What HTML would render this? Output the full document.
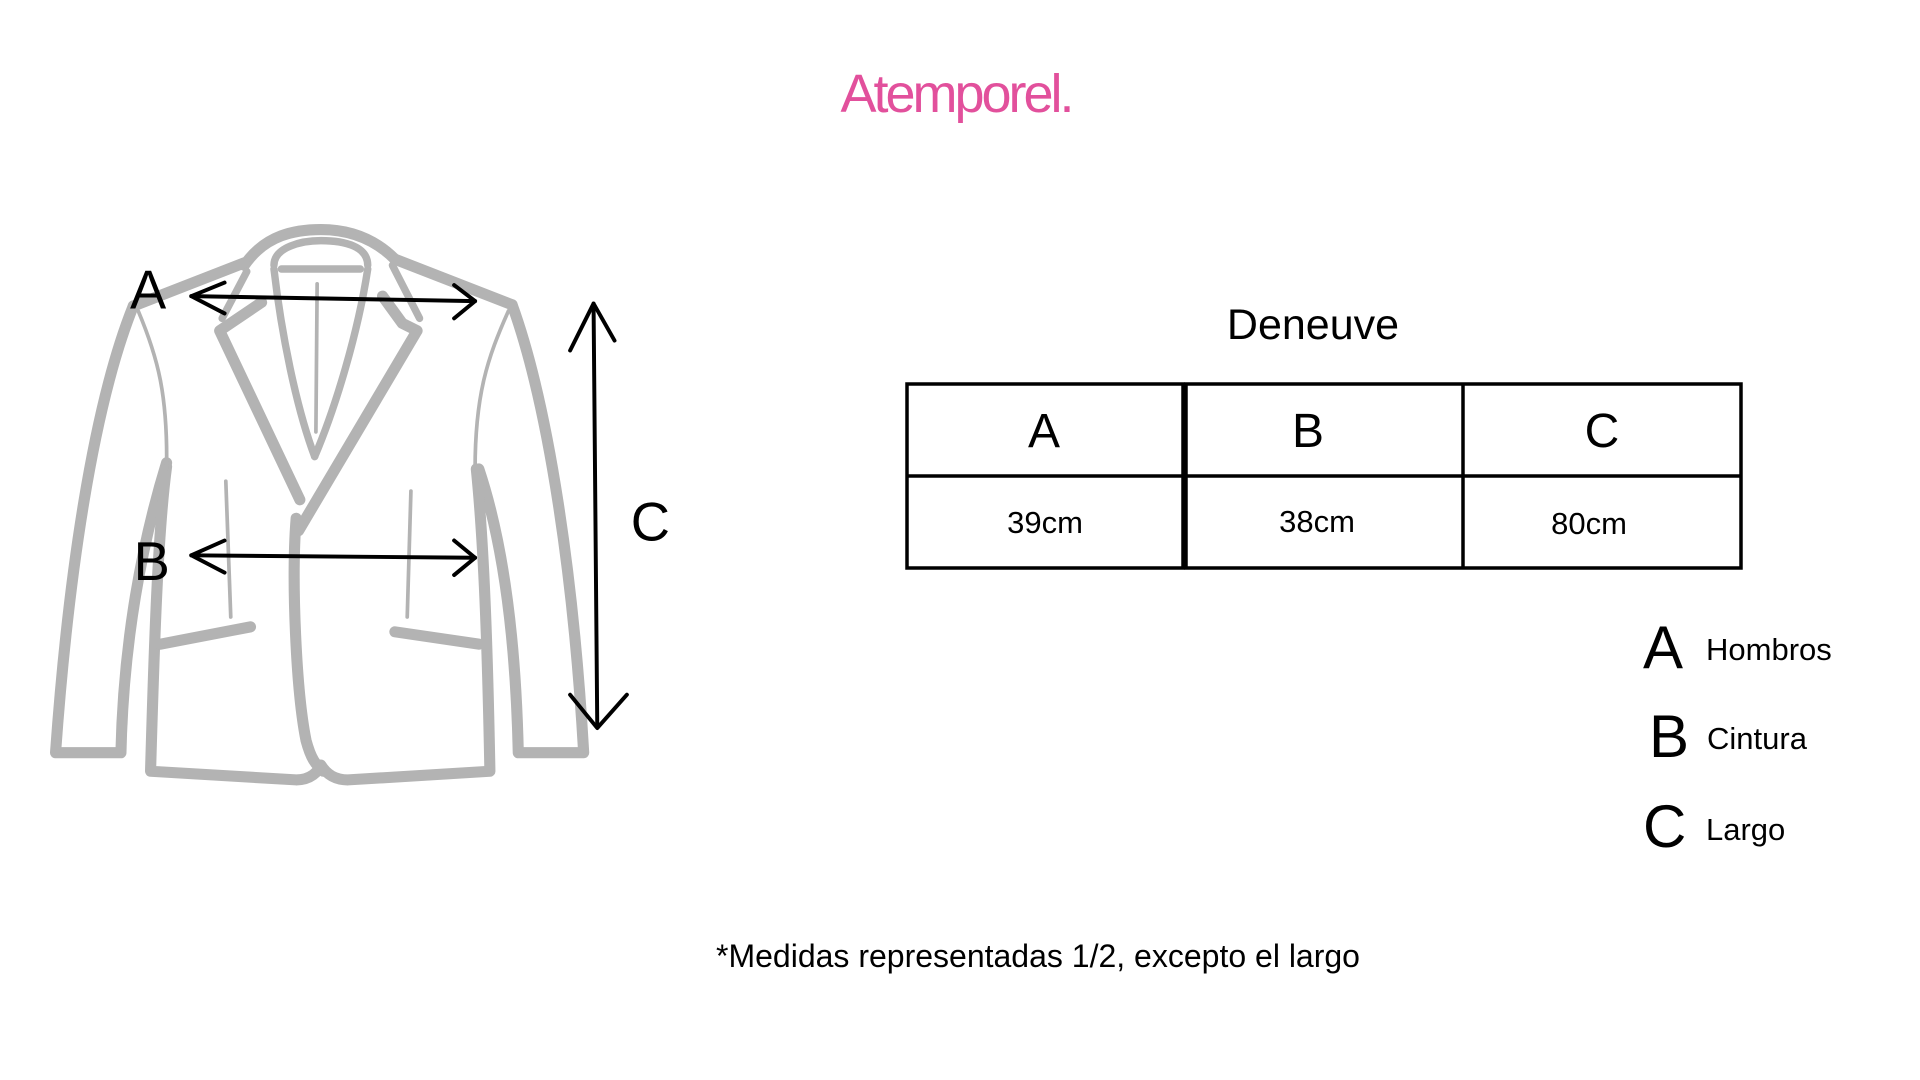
<!DOCTYPE html>
<html><head><meta charset="utf-8"><style>
html,body{margin:0;padding:0;background:#fff;}
svg{display:block}
text{font-family:"Liberation Sans","DejaVu Sans",sans-serif;}
</style></head><body>
<svg width="1920" height="1080" viewBox="0 0 1920 1080" xmlns="http://www.w3.org/2000/svg">
<rect width="1920" height="1080" fill="#fff"/>
<text x="956" y="112" text-anchor="middle" font-size="54" fill="#e2509c" letter-spacing="-3">Atemporel.</text>

<g transform="scale(1.234)" fill="none" stroke-linecap="round" stroke-linejoin="round">
 <g stroke="#b3b3b3" stroke-width="9">
  <path d="M198,215 C215,190 240,186 260,186 C285,186 305,195 320,210"/>
  <path d="M198,213 L108,248"/>
  <path d="M320,210 L415,247"/>
  <path d="M108,248 C75,330 55,470 45,610 L98,610 C100,520 115,440 135,375"/>
  <path d="M415,247 C445,330 465,470 473,610 L420,610 C418,520 408,440 388,380"/>
  <path d="M135,378 C128,430 125,520 122,625 L240,632 C252,632 258,625 260,620 C265,628 272,632 282,632 L397,625 C395,520 392,440 386,380"/>
  <path d="M212,245 L178,268 L243,405"/>
  <path d="M310,240 L326,262 L338,268 L242,430"/>
  <path d="M240,420 C236,470 240,560 248,600 C252,615 256,620 262,625"/>
  <path d="M130,522 L203,508"/>
  <path d="M320,512 L388,522"/>
 </g>
 <g stroke="#b3b3b3" stroke-width="6">
  <path d="M222,215 C222,200 245,195 260,195 C280,195 298,200 298,215"/>
  <path d="M222,218 C228,270 240,330 255,370"/>
  <path d="M298,218 C290,270 272,330 255,370"/>
  <path d="M228,218 L292,218"/>
  <path d="M200,220 L180,258"/>
  <path d="M318,215 L340,258"/>
 </g>
 <g stroke="#b3b3b3" stroke-width="3">
  <path d="M112,252 C128,290 136,320 135,380"/>
  <path d="M412,252 C395,290 385,320 385,380"/>
  <path d="M183,390 L187,500"/>
  <path d="M333,398 L330,500"/>
  <path d="M257,230 L256,350"/>
 </g>
 <g stroke="#000" stroke-width="3.2">
  <path d="M155,240 L385,244"/>
  <path d="M182,229 L155,240 L182,254"/>
  <path d="M368,231 L385,244 L368,258"/>
  <path d="M155,450 L385,452"/>
  <path d="M182,438 L155,450 L182,464"/>
  <path d="M368,438 L385,452 L368,466"/>
  <path d="M481,246 L484,588"/>
  <path d="M462,284 L481,246 L498,276"/>
  <path d="M462,563 L484,590 L508,563"/>
 </g>
 <g fill="#000" stroke="none" font-size="44">
  <text x="120" y="250" text-anchor="middle">A</text>
  <text x="123" y="470" text-anchor="middle">B</text>
  <text x="527" y="438" text-anchor="middle">C</text>
 </g>
</g>

<text x="1313" y="339" text-anchor="middle" font-size="43" fill="#000">Deneuve</text>
<g stroke="#000" stroke-width="3.5" fill="none">
 <rect x="907" y="384" width="276" height="184"/>
 <rect x="1186" y="384" width="555" height="184"/>
 <line x1="1463" y1="384" x2="1463" y2="568"/>
 <line x1="907" y1="476" x2="1741" y2="476"/>
</g>
<g fill="#000" text-anchor="middle">
 <text x="1044" y="447" font-size="48">A</text>
 <text x="1308" y="447" font-size="48">B</text>
 <text x="1602" y="447" font-size="48">C</text>
 <text x="1045" y="533" font-size="31">39cm</text>
 <text x="1317" y="532" font-size="31">38cm</text>
 <text x="1589" y="534" font-size="31">80cm</text>
</g>
<g fill="#000">
 <text x="1643" y="668" font-size="60">A</text>
 <text x="1706" y="660" font-size="31">Hombros</text>
 <text x="1649" y="757" font-size="60">B</text>
 <text x="1707" y="749" font-size="31">Cintura</text>
 <text x="1643" y="847" font-size="60">C</text>
 <text x="1706" y="840" font-size="31">Largo</text>
</g>
<text x="1038" y="967" text-anchor="middle" font-size="32" fill="#000">*Medidas representadas 1/2, excepto el largo</text>
</svg>
</body></html>
